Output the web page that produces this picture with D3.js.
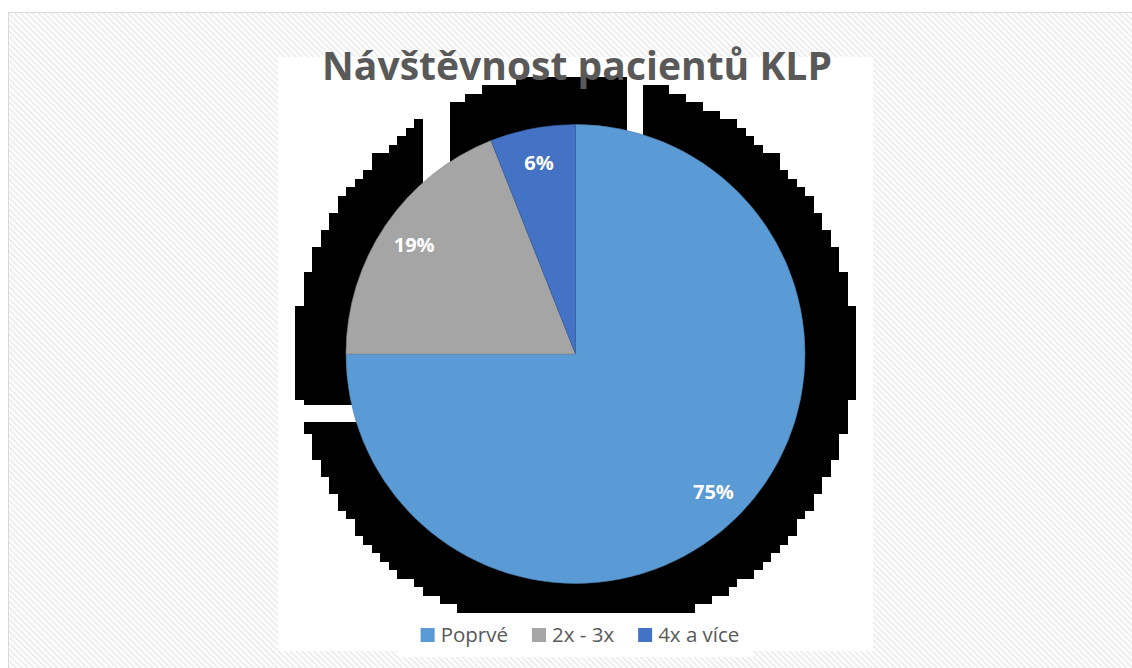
<!DOCTYPE html>
<html>
<head>
<meta charset="utf-8">
<script src="https://cdn.jsdelivr.net/npm/d3@7/dist/d3.min.js"></script>
<style>
  html, body { margin: 0; padding: 0; background: #ffffff; }
  svg { display: block; }
</style>
</head>
<body>
<svg id="chart" width="1132" height="668"></svg>
<script>
// ---- data ----
const title = "Návštěvnost pacientů KLP";
const categories = ["Poprvé", "2x - 3x", "4x a více"];
const values = [75, 19, 6];
const valueLabels = ["75%", "19%", "6%"];
const colors = ["#5B9BD5", "#A5A5A5", "#4472C4"];

// ---- layout ----
const W = 1132, H = 668;
const svg = d3.select("#chart");
const defs = svg.append("defs");

const pat = defs.append("pattern")
  .attr("id", "hatch")
  .attr("patternUnits", "userSpaceOnUse")
  .attr("width", 4.2).attr("height", 4.2)
  .attr("patternTransform", "rotate(-45)");
pat.append("rect").attr("width", 4.2).attr("height", 4.2).attr("fill", "#ffffff");
pat.append("rect").attr("width", 2.1).attr("height", 4.2).attr("fill", "#eeeeee");

// outer frame with hatch
svg.append("rect")
  .attr("x", 8.5).attr("y", 12.5)
  .attr("width", W + 10).attr("height", H + 10)
  .attr("fill", "url(#hatch)")
  .attr("stroke", "#d9d9d9").attr("stroke-width", 1);

// white plot area
svg.append("rect").attr("x", 278).attr("y", 57).attr("width", 595).attr("height", 594).attr("fill", "#ffffff");
svg.append("rect").attr("x", 398).attr("y", 650).attr("width", 355).attr("height", 7).attr("fill", "#ffffff");

// pie geometry
const cx = 575.5, cy = 354, r = 229.5;

// ---- blocky shadow artifact (decoration) ----
const sh = { R: 280.5, step: 8.5, left: 295, right: 856, bottom: 612 };
const gShadow = svg.append("g");
const rows = [];
for (let k = 0; ; k++) {
  const y0 = sh.bottom - (k + 1) * sh.step;
  const ym = y0 + sh.step / 2;
  const dy = ym - cy;
  if (dy < -sh.R) break;
  const hw = Math.sqrt(sh.R * sh.R - dy * dy);
  const xl = sh.left + Math.round((cx - hw - sh.left) / sh.step) * sh.step;
  const xr = sh.right - Math.round((sh.right - (cx + hw)) / sh.step) * sh.step;
  if (xr > xl) rows.push({ y: y0, x0: xl, x1: xr });
}
gShadow.selectAll("rect").data(rows).join("rect")
  .attr("x", d => d.x0).attr("y", d => d.y)
  .attr("width", d => d.x1 - d.x0).attr("height", sh.step + 0.6)
  .attr("fill", "#000000").attr("shape-rendering", "crispEdges");
// gaps in the artifact
gShadow.append("rect").attr("x", 423).attr("y", 60).attr("width", 27).attr("height", 160).attr("fill", "#ffffff");
gShadow.append("rect").attr("x", 627).attr("y", 60).attr("width", 16).attr("height", 110).attr("fill", "#ffffff");
gShadow.append("rect").attr("x", 280).attr("y", 405).attr("width", 100).attr("height", 17).attr("fill", "#ffffff");

// ---- pie ----
const pie = d3.pie().sort(null).value(d => d.v).startAngle(0).endAngle(2 * Math.PI);
const arcs = pie(values.map((v, i) => ({ v, i })));
const arc = d3.arc().innerRadius(0).outerRadius(r);
const labelArc = d3.arc().innerRadius(r * 0.85).outerRadius(r * 0.85);

const g = svg.append("g").attr("transform", `translate(${cx},${cy})`);
g.selectAll("path").data(arcs).join("path")
  .attr("d", arc)
  .attr("fill", d => colors[d.data.i])
  .attr("stroke", d => d3.color(colors[d.data.i]).darker(0.6))
  .attr("stroke-width", 0.6);

g.selectAll("text").data(arcs).join("text")
  .attr("transform", d => `translate(${labelArc.centroid(d)})`)
  .attr("text-anchor", "middle")
  .attr("dy", "0.36em")
  .attr("font-family", "'Open Sans', sans-serif")
  .attr("font-weight", "bold")
  .attr("font-size", 20)
  .attr("fill", "#ffffff")
  .text(d => valueLabels[d.data.i]);

// ---- title ----
const t = svg.append("text")
  .attr("x", 577).attr("y", 80)
  .attr("text-anchor", "middle")
  .attr("font-family", "'Open Sans', sans-serif")
  .attr("font-weight", "bold")
  .attr("font-size", 40)
  .attr("fill", "#595959")
  .text(title);
const tw = t.node().getComputedTextLength();
t.attr("font-size", 40 * 510 / tw);

// ---- legend ----
const lg = svg.append("g");
const items = lg.selectAll("g").data(categories).join("g");
items.append("rect").attr("width", 14).attr("height", 14).attr("y", -14)
  .attr("fill", (d, i) => colors[i]);
items.append("text").attr("x", 20).attr("y", 0)
  .attr("font-family", "'Open Sans', sans-serif")
  .attr("font-size", 20.5)
  .attr("fill", "#595959")
  .text(d => d);
let xPos = 0;
const offs = [];
items.each(function (d, i) {
  offs.push(xPos);
  const w = d3.select(this).select("text").node().getComputedTextLength();
  xPos += 20 + w + 24;
});
const totalW = xPos - 24;
const lx0 = 580 - totalW / 2;
items.attr("transform", (d, i) => `translate(${lx0 + offs[i]},642)`);
</script>
</body>
</html>
